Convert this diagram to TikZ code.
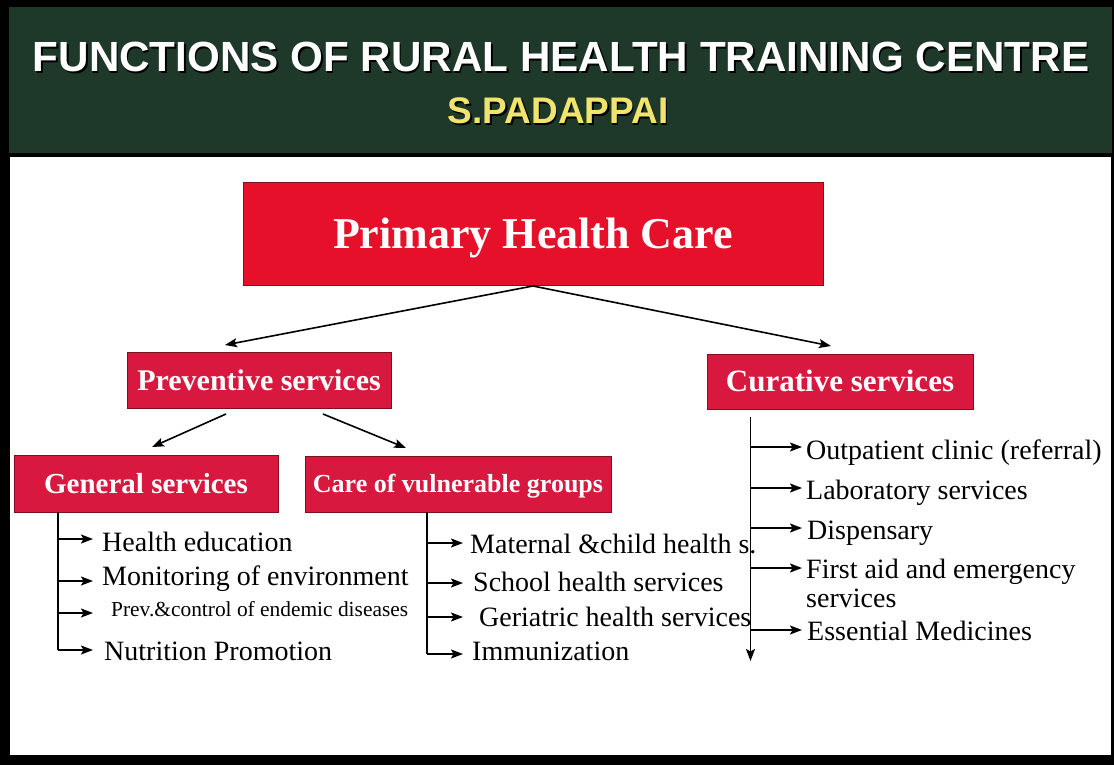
\documentclass[tikz,border=0pt]{standalone}
\usepackage{fontspec}
\setmainfont{Liberation Serif}
\newfontfamily\headfont{Liberation Sans}
\usetikzlibrary{arrows.meta}
\definecolor{hdrgreen}{RGB}{30,56,42}
\definecolor{boxred}{RGB}{230,16,42}
\definecolor{boxpink}{RGB}{216,24,62}
\definecolor{boxedge}{RGB}{130,14,30}
\definecolor{subyellow}{RGB}{240,228,110}
\tikzset{
  redbox/.style={draw=boxedge, line width=1pt, fill=#1, text=white, inner sep=0pt, text depth=0pt},
  conn/.style={draw=black, line width=1.6pt, -{Stealth[length=12pt,width=9pt,inset=2.5pt]}},
  bar/.style={draw=black, line width=1.6pt},
  item/.style={anchor=base west, inner sep=0pt, text=black, font=\fontsize{28}{32}\selectfont},
}
\begin{document}
\begin{tikzpicture}[x=1pt,y=-1pt]
\useasboundingbox (0,0) rectangle (1114,765);
% frame and header
\fill[black] (0,0) rectangle (1114,765);
\fill[hdrgreen] (9,7) rectangle (1112,153);
\fill[white] (10,157) rectangle (1111,755);
\node[text=black, font=\headfont\bfseries\fontsize{42.2}{46}\selectfont, inner sep=0pt, anchor=base] (titleS) at (562.5,73.5) {FUNCTIONS OF RURAL HEALTH TRAINING CENTRE};
\node[text=white, font=\headfont\bfseries\fontsize{42.2}{46}\selectfont, inner sep=0pt, anchor=base] (title) at (561,72) {FUNCTIONS OF RURAL HEALTH TRAINING CENTRE};
\node[text=black, font=\headfont\bfseries\fontsize{37}{40}\selectfont, inner sep=0pt, anchor=base] (subS) at (559.5,125.5) {S.PADAPPAI};
\node[text=subyellow, font=\headfont\bfseries\fontsize{37}{40}\selectfont, inner sep=0pt, anchor=base] (sub) at (558,124) {S.PADAPPAI};

% boxes
\node[redbox=boxred, minimum width=580pt, minimum height=103pt, text height=29pt, font=\bfseries\fontsize{44}{48}\selectfont] (phc) at (533,234) {Primary Health Care};
\node[redbox=boxpink, minimum width=264pt, minimum height=56pt, text height=20pt, font=\bfseries\fontsize{30}{34}\selectfont] (prev) at (259,380) {Preventive services};
\node[redbox=boxpink, minimum width=266pt, minimum height=55pt, text height=20.5pt, font=\bfseries\fontsize{31}{34}\selectfont] (cur) at (840,381.5) {Curative services};
\node[redbox=boxpink, minimum width=264pt, minimum height=57pt, text height=19pt, font=\bfseries\fontsize{29}{33}\selectfont] (gen) at (146,483.5) {General services};
\node[redbox=boxpink, minimum width=306pt, minimum height=56pt, text height=17pt, font=\bfseries\fontsize{26}{30}\selectfont] (vul) at (458,484) {Care of vulnerable groups};

% top arrows
\coordinate (phcL) at (225,345);
\coordinate (phcR) at (831,346);
\draw[conn] (phc.south) -- (phcL);
\draw[conn] (phc.south) -- (phcR);
\coordinate (pvA) at (226,414);
\coordinate (pvAe) at (152,447);
\coordinate (pvB) at (323,414);
\coordinate (pvBe) at (406,448);
\draw[conn] (pvA) -- (pvAe);
\draw[conn] (pvB) -- (pvBe);

% general services list
\coordinate (g0) at (58,512);
\coordinate (g1) at (58,539); \coordinate (g1e) at (93,539);
\coordinate (g2) at (58,581); \coordinate (g2e) at (93,581);
\coordinate (g3) at (58,613); \coordinate (g3e) at (93,613);
\coordinate (g4) at (58,650); \coordinate (g4e) at (93,650);
\draw[bar] (g0) -- (g4);
\draw[conn] (g1) -- (g1e);
\draw[conn] (g2) -- (g2e);
\draw[conn] (g3) -- (g3e);
\draw[conn] (g4) -- (g4e);
\node[item] (gt1) at (102,551) {Health education};
\node[item] (gt2) at (102,585) {Monitoring of environment};
\node[item, font=\fontsize{21.4}{24}\selectfont] (gt3) at (111,616) {Prev.\&control of endemic diseases};
\node[item] (gt4) at (104,660) {Nutrition Promotion};

% vulnerable groups list
\coordinate (v0) at (427,512);
\coordinate (v1) at (427,543); \coordinate (v1e) at (463,543);
\coordinate (v2) at (427,583); \coordinate (v2e) at (463,583);
\coordinate (v3) at (427,617); \coordinate (v3e) at (463,617);
\coordinate (v4) at (427,654); \coordinate (v4e) at (463,654);
\draw[bar] (v0) -- (v4);
\draw[conn] (v1) -- (v1e);
\draw[conn] (v2) -- (v2e);
\draw[conn] (v3) -- (v3e);
\draw[conn] (v4) -- (v4e);
\node[item] (vt1) at (470,553) {Maternal \&child health s.};
\node[item] (vt2) at (473,591) {School health services};
\node[item] (vt3) at (479,626) {Geriatric health services};
\node[item] (vt4) at (472,660.5) {Immunization};

% curative list
\coordinate (c0) at (750.5,417);
\coordinate (cend) at (750.5,661);
\coordinate (c1) at (750.5,447); \coordinate (c1e) at (802,447);
\coordinate (c2) at (750.5,488); \coordinate (c2e) at (802,488);
\coordinate (c3) at (750.5,528); \coordinate (c3e) at (802,528);
\coordinate (c4) at (750.5,568); \coordinate (c4e) at (802,568);
\coordinate (c5) at (750.5,630); \coordinate (c5e) at (802,630);
\draw[conn] (c0) -- (cend);
\draw[conn] (c1) -- (c1e);
\draw[conn] (c2) -- (c2e);
\draw[conn] (c3) -- (c3e);
\draw[conn] (c4) -- (c4e);
\draw[conn] (c5) -- (c5e);
\node[item] (ct1) at (806,459) {Outpatient clinic (referral)};
\node[item] (ct2) at (806,499) {Laboratory services};
\node[item] (ct3) at (807,539) {Dispensary};
\node[item] (ct4) at (806,578) {First aid and emergency};
\node[item] (ct4b) at (806,607) {services};
\node[item] (ct5) at (807,640) {Essential Medicines};
\end{tikzpicture}
\end{document}
